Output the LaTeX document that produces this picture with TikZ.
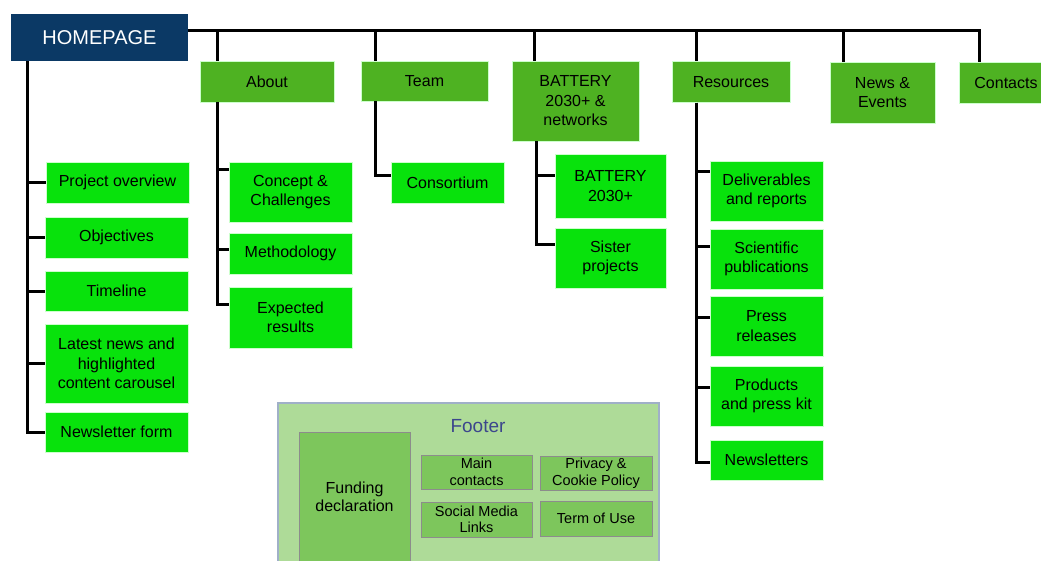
\documentclass[tikz,border=0pt]{standalone}
\usepackage{fontspec}
\setmainfont{Liberation Sans}
\definecolor{homeblue}{RGB}{11,57,101}
\definecolor{topgreen}{RGB}{78,178,34}
\definecolor{subgreen}{RGB}{8,226,12}
\definecolor{footbg}{RGB}{174,219,152}
\definecolor{footedge}{RGB}{160,176,200}
\definecolor{footbox}{RGB}{125,198,92}
\definecolor{foottext}{RGB}{60,70,140}
\tikzset{
  box/.style={inner sep=0pt, align=center, draw=white!80!green, line width=0.6pt,
    font=\fontsize{16}{19.5}\selectfont},
  topbox/.style={box, fill=topgreen},
  subbox/.style={box, fill=subgreen},
  fbox/.style={inner sep=0pt, align=center, fill=footbox, draw=black!45, line width=1pt,
    font=\fontsize{14.5}{16.5}\selectfont},
  link/.style={line width=3pt, black}
}
\begin{document}
\begin{tikzpicture}[x=1pt,y=-1pt]
\useasboundingbox (0,0) rectangle (1041,560);

% main menu
\node[box, fill=homeblue, draw=none, text=white, minimum width=177pt, minimum height=47pt,
  font=\fontsize{20}{24}\selectfont] (home) at (99.5,37.5) {HOMEPAGE};
\node[topbox, minimum width=134pt, minimum height=41pt] (about) at (267,81.5) {About};
\node[topbox, minimum width=127pt, minimum height=40pt] (team) at (424.5,81) {Team};
\node[topbox, minimum width=127pt, minimum height=80pt] (batt) at (575.5,101) {BATTERY\\2030+ \&\\networks};
\node[topbox, minimum width=118pt, minimum height=41pt] (res) at (731,82) {Resources};
\node[topbox, minimum width=105pt, minimum height=61pt] (news) at (882.5,92.5) {News \&\\Events};
\node[topbox, minimum width=94pt, minimum height=41pt] (contacts) at (1006,82.5) {Contacts};

% homepage
\node[subbox, minimum width=143pt, minimum height=41pt] (proj) at (117.5,182.5) {Project overview};
\node[subbox, minimum width=143pt, minimum height=41pt] (obj) at (116.5,237.5) {Objectives};
\node[subbox, minimum width=143pt, minimum height=40pt] (time) at (116.5,291) {Timeline};
\node[subbox, minimum width=143pt, minimum height=79pt] (latest) at (116.5,363.5) {Latest news and\\highlighted\\content carousel};
\node[subbox, minimum width=143pt, minimum height=40pt] (nlform) at (116.5,432) {Newsletter form};

% about
\node[subbox, minimum width=123pt, minimum height=60pt] (concept) at (290.5,192) {Concept \&\\Challenges};
\node[subbox, minimum width=123pt, minimum height=41pt] (method) at (290.5,253.5) {Methodology};
\node[subbox, minimum width=123pt, minimum height=61pt] (expected) at (290.5,317.5) {Expected\\results};

% team
\node[subbox, minimum width=113pt, minimum height=41pt] (consort) at (447.5,182.5) {Consortium};

% battery
\node[subbox, minimum width=111pt, minimum height=64pt] (b2030) at (610.5,186) {BATTERY\\2030+};
\node[subbox, minimum width=111pt, minimum height=60pt] (sister) at (610.5,258) {Sister\\projects};

% resources
\node[subbox, minimum width=113pt, minimum height=60pt] (deliv) at (766.5,191) {Deliverables\\and reports};
\node[subbox, minimum width=113pt, minimum height=60pt] (sci) at (766.5,259) {Scientific\\publications};
\node[subbox, minimum width=113pt, minimum height=60pt] (press) at (766.5,326) {Press\\releases};
\node[subbox, minimum width=113pt, minimum height=60pt] (prod) at (766.5,396) {Products\\and press kit};
\node[subbox, minimum width=113pt, minimum height=40pt] (newsl) at (766.5,460) {Newsletters};

% connectors
\draw[link] (home.east |- 0,30) -| (contacts.north -| 979,0);
\foreach \n/\x in {about/217, team/375, batt/534, res/696, news/843}
  \draw[link] (\x,30) -- (\n.north -| \x,0);
\foreach \n in {proj, obj, time, latest, nlform}
  \draw[link] (home.south -| 27,0) |- (\n.west);
\foreach \n/\d in {concept/8, method/17, expected/18}
  \draw[link] (about.south -| 217,0) |- ([yshift=-\d pt]\n.north west);
\draw[link] (team.south -| 375,0) |- ([yshift=-14pt]consort.north west);
\foreach \n/\d in {b2030/22, sister/17}
  \draw[link] (batt.south -| 536,0) |- ([yshift=-\d pt]\n.north west);
\foreach \n/\d in {deliv/11, sci/18, press/22, prod/22, newsl/23}
  \draw[link] (res.south -| 696,0) |- ([yshift=-\d pt]\n.north west);

% footer
\node[fill=footbg, draw=footedge, line width=1.2pt, minimum width=381pt, minimum height=170pt,
  inner sep=0pt] (footer) at (468.5,488) {};
\node[text=foottext, font=\fontsize{19}{22}\selectfont] (foottitle) at (478,426) {Footer};
\node[fbox, minimum width=111pt, minimum height=130pt, font=\fontsize{16}{18.5}\selectfont]
  (funding) at (354.5,497) {Funding\\declaration};
\node[fbox, minimum width=111pt, minimum height=34pt] (maincont) at (476.5,472) {Main\\contacts};
\node[fbox, minimum width=112pt, minimum height=34pt] (privacy) at (596,473) {Privacy \&\\Cookie Policy};
\node[fbox, minimum width=111pt, minimum height=35pt] (social) at (476.5,519.5) {Social Media\\Links};
\node[fbox, minimum width=112pt, minimum height=35pt] (terms) at (596,518.5) {Term of Use};
\end{tikzpicture}
\end{document}
